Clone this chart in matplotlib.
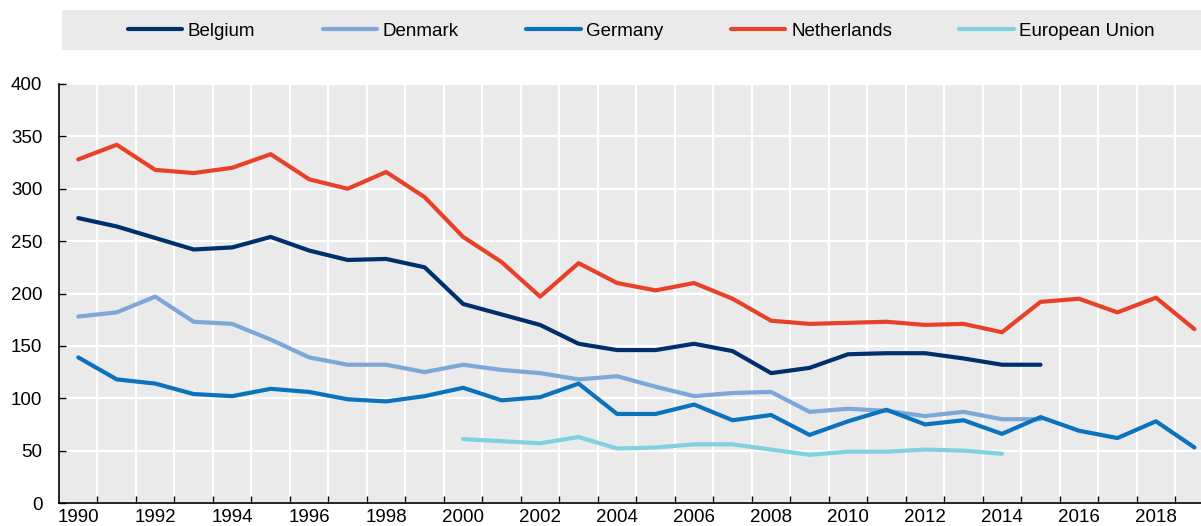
import matplotlib.pyplot as plt
from matplotlib.patches import Rectangle
from matplotlib.ticker import MultipleLocator, FixedLocator

plt.rcParams['font.family'] = ['Liberation Sans Narrow', 'Liberation Sans', 'DejaVu Sans']

years = list(range(1990, 2020))

belgium = [272, 264, 253, 242, 244, 254, 241, 232, 233, 225, 190, 180, 170, 152, 146,
           146, 152, 145, 124, 129, 142, 143, 143, 138, 132, 132]
denmark = [178, 182, 197, 173, 171, 156, 139, 132, 132, 125, 132, 127, 124, 118, 121,
           111, 102, 105, 106, 87, 90, 88, 83, 87, 80, 80]
germany = [139, 118, 114, 104, 102, 109, 106, 99, 97, 102, 110, 98, 101, 114, 85,
           85, 94, 79, 84, 65, 78, 89, 75, 79, 66, 82, 69, 62, 78, 53]
netherlands = [328, 342, 318, 315, 320, 333, 309, 300, 316, 292, 254, 230, 197, 229, 210,
               203, 210, 195, 174, 171, 172, 173, 170, 171, 163, 192, 195, 182, 196, 166]
eu_years = list(range(2000, 2015))
eu = [61, 59, 57, 63, 52, 53, 56, 56, 51, 46, 49, 49, 51, 50, 47]

series = [
    ("Belgium", years[:len(belgium)], belgium, "#002F6C"),
    ("Denmark", years[:len(denmark)], denmark, "#7BA7D9"),
    ("Germany", years, germany, "#0B72BE"),
    ("Netherlands", years, netherlands, "#E8412A"),
    ("European Union", eu_years, eu, "#7FD1DF"),
]

fig = plt.figure(figsize=(12.01, 5.26), dpi=100)
ax = fig.add_axes([59 / 1201, 23 / 526, 1 - 59 / 1201, (503 - 84) / 526])
ax.set_facecolor("#EAEAEA")

for name, xs, ys, col in series:
    ax.plot(xs, ys, color=col, lw=3.0, label=name, solid_capstyle="round", zorder=3)

ax.set_xlim(1989.5, 2019.17)
ax.set_ylim(0, 400)

ax.xaxis.set_major_locator(FixedLocator([y + 0.5 for y in range(1990, 2019)]))
ax.xaxis.set_minor_locator(FixedLocator(list(range(1990, 2020, 2))))
ax.xaxis.set_major_formatter(plt.NullFormatter())
ax.xaxis.set_minor_formatter(plt.FuncFormatter(lambda v, p: f"{int(v)}"))
ax.tick_params(axis="x", which="major", direction="in", length=5, width=1, color="black")
ax.tick_params(axis="x", which="minor", length=0, pad=4, labelsize=13.5)
ax.yaxis.set_major_locator(MultipleLocator(50))
ax.tick_params(axis="y", direction="in", length=5, width=1, pad=12, labelsize=13.5)

ax.grid(True, which="major", color="white", lw=1.6, zorder=1)
ax.set_axisbelow(True)
for s in ["top", "right"]:
    ax.spines[s].set_visible(False)
ax.spines["left"].set_linewidth(1.2)
ax.spines["bottom"].set_linewidth(1.2)

fig.patches.append(Rectangle((62 / 1201, (526 - 50) / 526), 1 - 62 / 1201, 40 / 526,
                             transform=fig.transFigure, facecolor="#EAEAEA",
                             edgecolor="none", zorder=0))
handles, labels = ax.get_legend_handles_labels()
fig.legend(handles, labels, loc="center", bbox_to_anchor=(0.534, (526 - 31) / 526),
           ncol=5, frameon=False, fontsize=13.5, handlelength=2.9,
           handletextpad=0.3, columnspacing=3.6)

fig.savefig("out.png", dpi=100)
